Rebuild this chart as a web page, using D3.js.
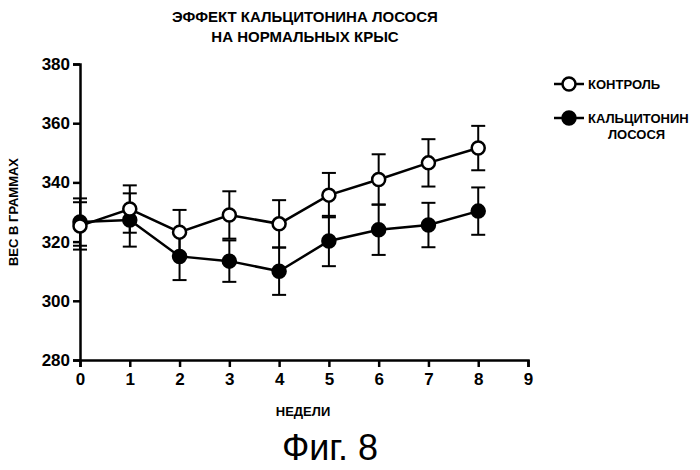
<!DOCTYPE html>
<html>
<head>
<meta charset="utf-8">
<style>
  html, body { margin: 0; padding: 0; background: #fff; }
  svg { display: block; font-family: "Liberation Sans", Arial, sans-serif; }
</style>
</head>
<body>
<svg id="chart" width="700" height="470"></svg>
<script src="https://cdn.jsdelivr.net/npm/d3@7"></script>
<script>
// weeks and body weight (g)
const weeks = [0, 1, 2, 3, 4, 5, 6, 7, 8];
const control = [325.3, 331.0, 323.2, 329.0, 326.0, 335.7, 341.0, 346.6, 351.6];
const controlErr = [8, 8, 7.5, 8, 8, 7.5, 8.5, 8, 7.5];
const calcitonin = [326.6, 327.3, 315.0, 313.4, 310.0, 320.2, 324.0, 325.6, 330.3];
const calcitoninErr = [8, 9, 8, 7, 8, 8.5, 8.5, 7.5, 8];
const xTicks = [0, 1, 2, 3, 4, 5, 6, 7, 8, 9];
const yTicks = [280, 300, 320, 340, 360, 380];

const svg = d3.select('#chart');
const x = d3.scaleLinear().domain([0, 9]).range([80, 528]);
const y = d3.scaleLinear().domain([280, 380]).range([360, 64]);

// axes
const xAxis = svg.append('g').attr('transform', 'translate(0,360)')
  .call(d3.axisBottom(x).tickValues(xTicks).tickSize(7).tickFormat(d3.format('d')));
const yAxis = svg.append('g').attr('transform', 'translate(80,0)')
  .call(d3.axisLeft(y).tickValues(yTicks).tickSize(7));
[xAxis, yAxis].forEach(a => {
  a.selectAll('path, line').attr('stroke', '#000').attr('stroke-width', 2.5);
  a.selectAll('text').attr('font-size', 17).attr('font-weight', 'bold').attr('fill', '#000');
});
xAxis.selectAll('text').attr('dy', '0.9em');

function drawSeries(vals, errs, filled) {
  const g = svg.append('g');
  const line = d3.line().x((d, i) => x(weeks[i])).y(d => y(d));
  g.append('path').datum(vals).attr('d', line)
    .attr('fill', 'none').attr('stroke', '#000').attr('stroke-width', 2.5);
  vals.forEach((v, i) => {
    const cx = x(weeks[i]);
    const t = y(v + errs[i]), b = y(v - errs[i]);
    g.append('line').attr('x1', cx).attr('x2', cx).attr('y1', t).attr('y2', b)
      .attr('stroke', '#000').attr('stroke-width', 2);
    [t, b].forEach(yy => g.append('line').attr('x1', cx - 7).attr('x2', cx + 7)
      .attr('y1', yy).attr('y2', yy).attr('stroke', '#000').attr('stroke-width', 2));
  });
  g.selectAll('circle').data(vals).enter().append('circle')
    .attr('cx', (d, i) => x(weeks[i])).attr('cy', d => y(d)).attr('r', 6.5)
    .attr('fill', filled ? '#000' : '#fff').attr('stroke', '#000').attr('stroke-width', 2.5);
}
drawSeries(calcitonin, calcitoninErr, true);
drawSeries(control, controlErr, false);

// legend
const legend = [
  { label: ['КОНТРОЛЬ'], filled: false, y: 84 },
  { label: ['КАЛЬЦИТОНИН', 'ЛОСОСЯ'], filled: true, y: 118 }
];
legend.forEach(l => {
  svg.append('line').attr('x1', 554).attr('x2', 584).attr('y1', l.y).attr('y2', l.y)
    .attr('stroke', '#000').attr('stroke-width', 2.5);
  svg.append('circle').attr('cx', 569).attr('cy', l.y).attr('r', 6.5)
    .attr('fill', l.filled ? '#000' : '#fff').attr('stroke', '#000').attr('stroke-width', 2.5);
  l.label.forEach((t, i) => svg.append('text').attr('x', i === 0 ? 588 : 608).attr('y', l.y + 5 + i * 16)
    .attr('font-size', 13).attr('font-weight', 'bold').text(t));
});

// titles
svg.append('text').attr('x', 305).attr('y', 22).attr('text-anchor', 'middle')
  .attr('font-size', 15).attr('font-weight', 'bold').text('ЭФФЕКТ КАЛЬЦИТОНИНА ЛОСОСЯ');
svg.append('text').attr('x', 305).attr('y', 42).attr('text-anchor', 'middle')
  .attr('font-size', 15).attr('font-weight', 'bold').text('НА НОРМАЛЬНЫХ КРЫС');
svg.append('text').attr('x', 303).attr('y', 416).attr('text-anchor', 'middle')
  .attr('font-size', 13).attr('font-weight', 'bold').text('НЕДЕЛИ');
svg.append('text').attr('transform', 'translate(18,212) rotate(-90)').attr('text-anchor', 'middle')
  .attr('font-size', 13).attr('font-weight', 'bold').text('ВЕС В ГРАММАХ');
svg.append('text').attr('x', 330).attr('y', 460).attr('text-anchor', 'middle')
  .attr('font-size', 36).text('Фиг. 8');
</script>
</body>
</html>
